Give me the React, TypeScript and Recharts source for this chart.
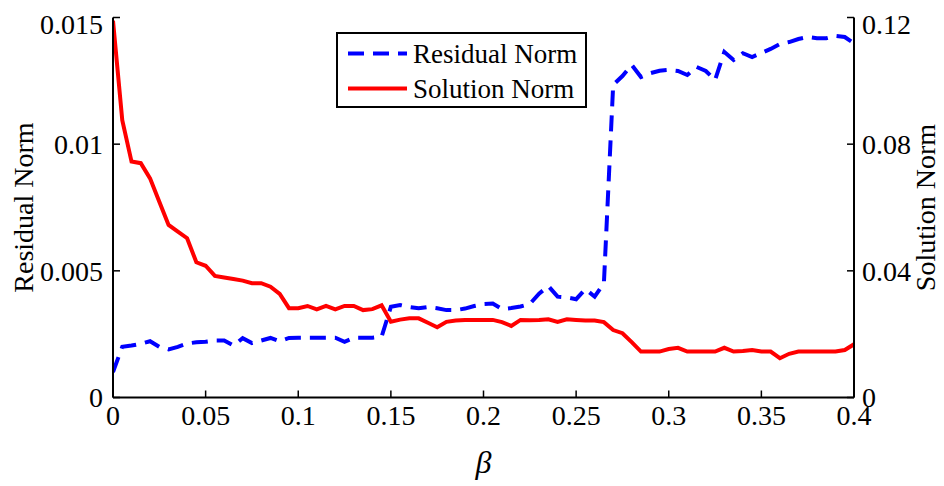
import React from "react";
import { LineChart, Line, XAxis, YAxis, Legend, Label } from "recharts";

const beta = [
  0, 0.005, 0.01, 0.015, 0.02, 0.025, 0.03, 0.035, 0.04, 0.045,
  0.05, 0.055, 0.06, 0.065, 0.07, 0.075, 0.08, 0.085, 0.09, 0.095,
  0.1, 0.105, 0.11, 0.115, 0.12, 0.125, 0.13, 0.135, 0.14, 0.145,
  0.15, 0.155, 0.16, 0.165, 0.17, 0.175, 0.18, 0.185, 0.19, 0.195,
  0.2, 0.205, 0.21, 0.215, 0.22, 0.225, 0.23, 0.235, 0.24, 0.245,
  0.25, 0.255, 0.26, 0.265, 0.27, 0.275, 0.28, 0.285, 0.29, 0.295,
  0.3, 0.305, 0.31, 0.315, 0.32, 0.325, 0.33, 0.335, 0.34, 0.345,
  0.35, 0.355, 0.36, 0.365, 0.37, 0.375, 0.38, 0.385, 0.39, 0.395,
  0.4,
];

const residualNorm = [
  0.001, 0.002, 0.00205, 0.00212, 0.00222, 0.002, 0.0019, 0.002, 0.00213, 0.00218,
  0.0022, 0.00225, 0.00225, 0.00205, 0.00234, 0.00215, 0.00225, 0.00235, 0.00222, 0.00235,
  0.00236, 0.00236, 0.00236, 0.00236, 0.00236, 0.0022, 0.00236, 0.00236, 0.00236, 0.0024,
  0.00358, 0.00365, 0.00357, 0.00352, 0.00357, 0.00352, 0.00345, 0.00345, 0.00351, 0.00361,
  0.00369, 0.00371, 0.00349, 0.00353, 0.00359, 0.00369, 0.0041, 0.0044, 0.00398, 0.00395,
  0.00388, 0.00428, 0.00398, 0.00452, 0.01234, 0.01269, 0.01313, 0.01265, 0.0128, 0.0129,
  0.01293, 0.01289, 0.01273, 0.01305, 0.01289, 0.01253, 0.01364, 0.01332, 0.01359, 0.01344,
  0.0136, 0.01376, 0.01395, 0.01403, 0.01415, 0.01423, 0.01418, 0.01418, 0.01427, 0.01423,
  0.01398,
];

const solutionNorm = [
  0.119, 0.0876, 0.0745, 0.074, 0.0692, 0.0618, 0.0545, 0.0524, 0.0503, 0.0427,
  0.0416, 0.0384, 0.0379, 0.0374, 0.0369, 0.0361, 0.0361, 0.035, 0.0327, 0.0282,
  0.0282, 0.0289, 0.0278, 0.0289, 0.0278, 0.0289, 0.0289, 0.0276, 0.0279, 0.0291,
  0.0239, 0.0246, 0.025, 0.025, 0.0236, 0.0222, 0.0239, 0.0243, 0.0245, 0.0245,
  0.0245, 0.0245, 0.0238, 0.0226, 0.0245, 0.0244, 0.0245, 0.0247, 0.0239, 0.0247,
  0.0245, 0.0243, 0.0243, 0.0238, 0.0213, 0.0203, 0.0175, 0.0145, 0.0145, 0.0145,
  0.0153, 0.0157, 0.0145, 0.0145, 0.0145, 0.0145, 0.0157, 0.0145, 0.0147, 0.015,
  0.0145, 0.0145, 0.0124, 0.0138, 0.0145, 0.0145, 0.0145, 0.0145, 0.0145, 0.015,
  0.0168,
];

const xTicks = [0, 0.05, 0.1, 0.15, 0.2, 0.25, 0.3, 0.35, 0.4];
const leftTicks = [0, 0.005, 0.01, 0.015];
const rightTicks = [0, 0.04, 0.08, 0.12];

const seriesNames = ["Residual Norm", "Solution Norm"];

const data = beta.map((b, i) => ({
  beta: b,
  residual: residualNorm[i],
  solution: solutionNorm[i],
}));

const FONT = "'Liberation Serif', 'Times New Roman', serif";
const tickStyle = { fontFamily: FONT, fontSize: 28, fill: "#000" };
const axisLine = { stroke: "#000", strokeWidth: 2 };
const tickLine = { stroke: "#000", strokeWidth: 1.5 };

const LegendBox = () => (
  <svg width={251} height={76} style={{ display: "block" }}>
    <rect x={1} y={1} width={249} height={74} fill="#fff" stroke="#000" strokeWidth={2} />
    <line x1={12} y1={21.5} x2={71} y2={21.5} stroke="#0000ff" strokeWidth={4} strokeDasharray="16 9" />
    <text x={77} y={21.5} dominantBaseline="central" fontFamily={FONT} fontSize={27} fill="#000">
      {seriesNames[0]}
    </text>
    <line x1={12} y1={56.5} x2={71} y2={56.5} stroke="#ff0000" strokeWidth={4} />
    <text x={77} y={56.5} dominantBaseline="central" fontFamily={FONT} fontSize={27} fill="#000">
      {seriesNames[1]}
    </text>
  </svg>
);

export default function App() {
  return (
    <LineChart
      width={936}
      height={478}
      data={data}
      margin={{ top: 9.5, right: 0, bottom: 0, left: 0 }}
      style={{ background: "#fff" }}
    >
      <XAxis
        dataKey="beta"
        type="number"
        domain={[0, 0.4]}
        ticks={xTicks}
        allowDataOverflow
        height={88.5}
        tickSize={-7}
        tickMargin={15}
        tick={tickStyle}
        axisLine={axisLine}
        tickLine={tickLine}
      >
        <Label
          value="β"
          position="center"
          dy={20}
          style={{ fontFamily: FONT, fontSize: 32, fontStyle: "italic", fill: "#000" }}
        />
      </XAxis>
      <XAxis
        xAxisId="top"
        orientation="top"
        dataKey="beta"
        type="number"
        domain={[0, 0.4]}
        ticks={xTicks}
        allowDataOverflow
        height={0}
        tickSize={-7}
        tickFormatter={() => ""}
        axisLine={axisLine}
        tickLine={tickLine}
      />
      <YAxis
        yAxisId="left"
        type="number"
        domain={[0, 0.015]}
        ticks={leftTicks}
        allowDataOverflow
        width={105}
        tickSize={-7}
        tickMargin={17}
        tick={tickStyle}
        axisLine={axisLine}
        tickLine={tickLine}
      >
        <Label
          value="Residual Norm"
          angle={-90}
          position="center"
          dx={-37}
          style={{ fontFamily: FONT, fontSize: 28, fill: "#000", textAnchor: "middle" }}
        />
      </YAxis>
      <YAxis
        yAxisId="right"
        orientation="right"
        type="number"
        domain={[0, 0.12]}
        ticks={rightTicks}
        allowDataOverflow
        width={90}
        tickSize={-7}
        tickMargin={15}
        tick={tickStyle}
        axisLine={axisLine}
        tickLine={tickLine}
      >
        <Label
          value="Solution Norm"
          angle={-90}
          position="center"
          dx={26}
          style={{ fontFamily: FONT, fontSize: 28, fill: "#000", textAnchor: "middle" }}
        />
      </YAxis>
      <Legend
        layout="vertical"
        align="center"
        verticalAlign="middle"
        content={() => <LegendBox />}
        wrapperStyle={{ position: "absolute", left: 328, top: 24, width: 251, height: 76, margin: 0, padding: 0 }}
      />
      <Line
        yAxisId="left"
        dataKey="residual"
        name={seriesNames[0]}
        type="linear"
        stroke="#0000ff"
        strokeWidth={4}
        strokeDasharray="16 9"
        dot={false}
        activeDot={false}
        isAnimationActive={false}
      />
      <Line
        yAxisId="right"
        dataKey="solution"
        name={seriesNames[1]}
        type="linear"
        stroke="#ff0000"
        strokeWidth={4}
        dot={false}
        activeDot={false}
        isAnimationActive={false}
      />
    </LineChart>
  );
}
